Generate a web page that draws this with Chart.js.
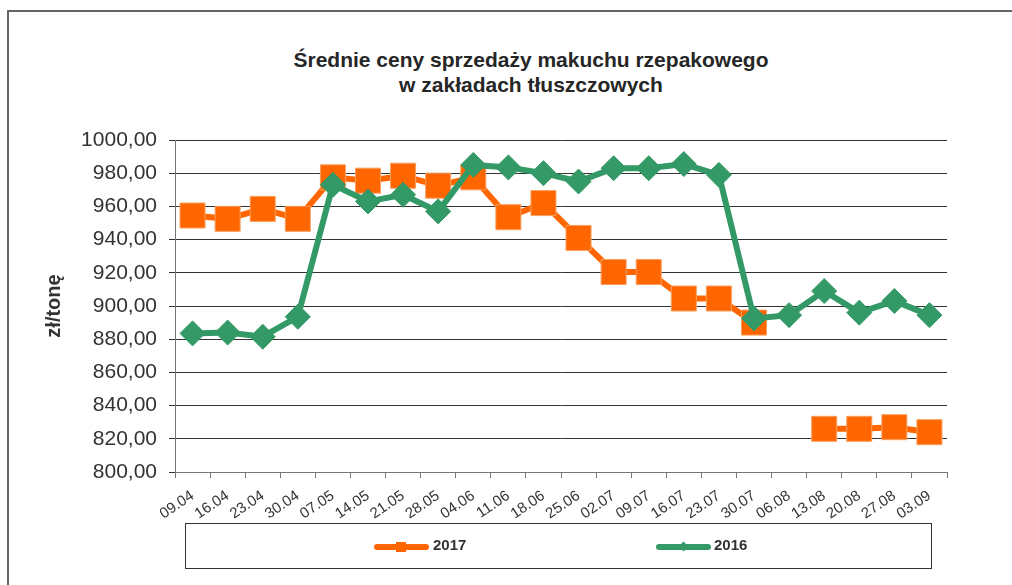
<!DOCTYPE html>
<html lang="pl">
<head>
<meta charset="utf-8">
<title>Średnie ceny sprzedaży makuchu rzepakowego</title>
<script src="https://cdn.jsdelivr.net/npm/chart.js@4.4.1/dist/chart.umd.min.js"></script>
<style>
  body { margin: 0; background: #fff; font-family: "Liberation Sans", Arial, sans-serif; }
  #wrap { position: relative; width: 1012px; height: 585px; overflow: hidden; background: #fff; }
  #frame { position: absolute; left: 7px; top: 10px; width: 1100px; height: 700px;
           border-left: 2px solid #666; border-top: 2px solid #666; }
  #chart { position: absolute; left: 0; top: 0; }
  #title { position: absolute; left: 0; top: 47px; width: 1062px; text-align: center;
           font-weight: bold; font-size: 21px; line-height: 25px; color: #262626; }
  #legend { position: absolute; left: 185px; top: 523px; width: 747px; height: 46px;
            box-sizing: border-box; border: 1px solid #333; }
  .lg-line { position: absolute; height: 6px; border-radius: 3px; top: 20px; }
  .lg-mark { position: absolute; }
  .lg-text { position: absolute; top: 12px; font-weight: bold; font-size: 15px; color: #333; }
</style>
</head>
<body>
<div id="wrap">
  <div id="frame"></div>
  <div id="title">Średnie ceny sprzedaży makuchu rzepakowego<br>w zakładach tłuszczowych</div>
  <canvas id="chart" width="1012" height="585"></canvas>
  <div id="legend">
    <div class="lg-line" style="left:188px;width:55px;background:#FF6600"></div>
    <div class="lg-mark" style="left:210px;top:18px;width:10px;height:10px;background:#FF6600"></div>
    <div class="lg-text" style="left:247px">2017</div>
    <div class="lg-line" style="left:470px;width:55px;background:#339966"></div>
    <div class="lg-mark" style="left:494px;top:19px;width:7px;height:7px;background:#339966;transform:rotate(45deg)"></div>
    <div class="lg-text" style="left:528px">2016</div>
  </div>
</div>
<script>
// Tygodnie notowań
const weeks = ['09.04', '16.04', '23.04', '30.04', '07.05', '14.05', '21.05', '28.05',
  '04.06', '11.06', '18.06', '25.06', '02.07', '09.07', '16.07', '23.07',
  '30.07', '06.08', '13.08', '20.08', '27.08', '03.09'];

// Ceny w zł/tonę
const prices2017 = [954.5, 952.5, 958.5, 952.5, 977.5, 975.5, 978.5, 972.5,
  977.5, 953.5, 962, 941, 920.5, 920.5, 904.5, 904.5,
  890, null, 826, 826, 827, 824];
const prices2016 = [883.5, 884, 881.5, 893.5, 973, 963, 967, 957,
  985, 983.5, 980, 975, 983, 983, 985.5, 979,
  892.5, 894.5, 909, 896, 903, 894.5];

const axisMin = 800;
const axisMax = 1000;
const axisStep = 20;

Chart.defaults.font.family = '"Liberation Sans", Arial, sans-serif';
Chart.defaults.color = '#333';

const ctx = document.getElementById('chart');

new Chart(ctx, {
  type: 'line',
  data: {
    labels: weeks,
    datasets: [
      {
        label: '2017',
        data: prices2017,
        order: 1,
        borderColor: '#FF6600',
        backgroundColor: '#FF6600',
        borderWidth: 6,
        pointStyle: 'rect',
        pointRadius: 17.7,
        pointHoverRadius: 17.7,
        pointBorderColor: '#F8A060',
        pointBorderWidth: 1,
        tension: 0,
        spanGaps: false
      },
      {
        label: '2016',
        data: prices2016,
        order: 0,
        borderColor: '#339966',
        backgroundColor: '#339966',
        borderWidth: 6,
        pointStyle: 'rectRot',
        pointRadius: 12.5,
        pointHoverRadius: 12.5,
        pointBorderColor: '#339966',
        pointBorderWidth: 1,
        tension: 0
      }
    ]
  },
  options: {
    responsive: false,
    animation: false,
    layout: { padding: { top: 140, left: 0, right: 65, bottom: 0 } },
    plugins: {
      legend: { display: false },
      title: { display: false },
      tooltip: { enabled: false }
    },
    scales: {
      x: {
        offset: true,
        afterFit(scale) { scale.height = 113; },
        ticks: {
          autoSkip: false,
          maxRotation: 34,
          minRotation: 34,
          padding: 9,
          font: { size: 15 },
          color: '#333'
        },
        grid: { offset: true, drawOnChartArea: false, drawTicks: true, tickLength: 6, color: '#777' },
        border: { color: '#777' }
      },
      y: {
        min: axisMin,
        max: axisMax,
        afterFit(scale) { scale.width = 175; },
        ticks: {
          stepSize: axisStep,
          padding: 12,
          font: { size: 21 },
          color: '#333',
          callback: (v) => v.toFixed(2).replace('.', ',')
        },
        grid: { color: '#333', tickLength: 6 },
        border: { color: '#777' },
        title: {
          display: true,
          text: 'zł/tonę',
          font: { size: 20, weight: 'bold' },
          color: '#333',
          padding: { top: 42, bottom: 0 }
        }
      }
    }
  }
});
</script>
</body>
</html>
